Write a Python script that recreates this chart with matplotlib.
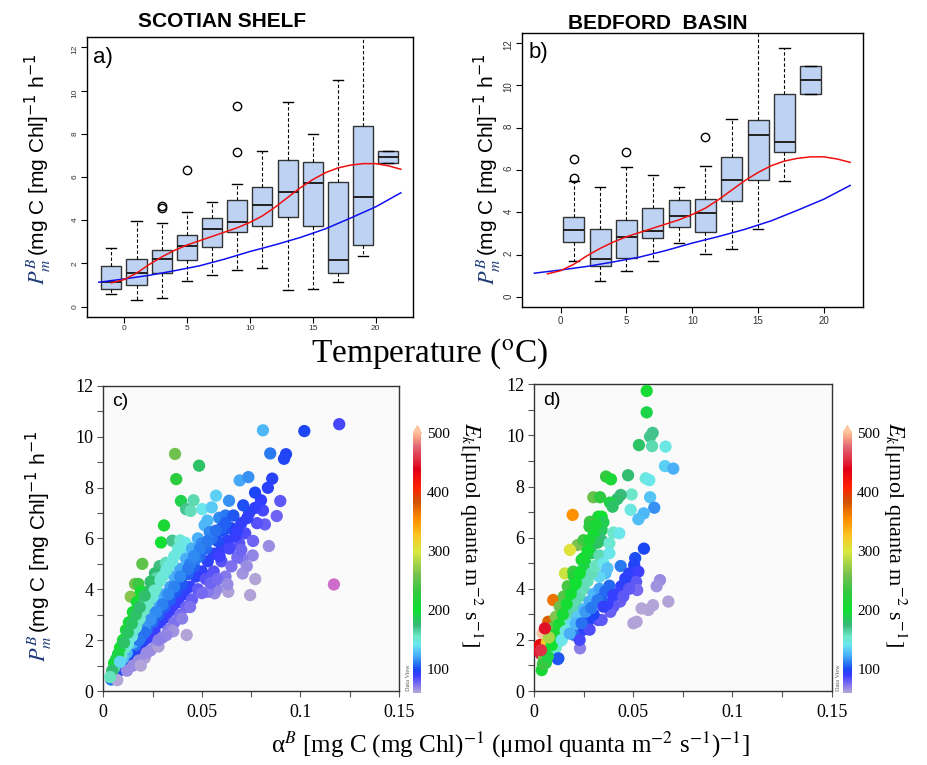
import matplotlib
matplotlib.use("Agg")
import matplotlib.pyplot as plt
from matplotlib.colors import LinearSegmentedColormap, Normalize
from matplotlib.cm import ScalarMappable
from matplotlib.ticker import MultipleLocator

SANS = ["Liberation Sans", "DejaVu Sans"]
NARROW = ["Liberation Sans Narrow", "Liberation Sans", "DejaVu Sans"]
SERIF = ["Liberation Serif", "DejaVu Serif"]

# ---------------- boxplots: P_m^B by temperature bin ----------------
a_pos = [-1, 1, 3, 5, 7, 9, 11, 13, 15, 17, 19, 21]
a_whislo = [0.58, 0.32, 0.41, 1.17, 1.46, 1.69, 1.77, 0.77, 0.81, 1.15, 2.34, 6.65]
a_q1 = [0.80, 0.98, 1.57, 2.18, 2.77, 3.47, 3.75, 4.16, 3.75, 1.54, 2.86, 6.65]
a_med = [1.15, 1.57, 2.20, 2.80, 3.61, 3.93, 4.70, 5.30, 5.73, 2.18, 5.07, 6.93]
a_q3 = [1.89, 2.21, 2.64, 3.32, 4.12, 4.93, 5.56, 6.81, 6.70, 5.79, 8.34, 7.19]
a_whishi = [2.70, 3.95, 3.89, 4.39, 4.84, 5.67, 7.22, 9.48, 7.97, 10.48, 13.5, 7.19]
a_fliers = [[], [], [4.55, 4.66], [6.33], [], [7.16, 9.31], [], [], [], [], [], []]

b_pos = [1, 3, 5, 7, 9, 11, 13, 15, 17, 19]
b_whislo = [1.71, 0.75, 1.21, 1.70, 2.56, 2.04, 2.25, 3.21, 5.46, 9.59]
b_q1 = [2.61, 1.49, 1.87, 2.78, 3.32, 3.08, 4.55, 5.54, 6.84, 9.59]
b_med = [3.19, 1.82, 2.82, 3.13, 3.85, 3.98, 5.54, 7.64, 7.33, 10.25]
b_q3 = [3.77, 3.22, 3.65, 4.20, 4.58, 4.62, 6.61, 8.34, 9.58, 10.92]
b_whishi = [5.46, 5.22, 6.13, 5.76, 5.20, 6.18, 8.40, 13.0, 11.75, 10.92]
b_fliers = [[5.63, 6.54], [], [6.83], [], [], [7.55], [], [], [], []]

# model curves (same in both panels)
blue_x = [-2, 0, 2, 4, 6, 8, 10, 12, 14, 16, 18, 20, 22]
blue_y = [1.13, 1.28, 1.45, 1.66, 1.89, 2.20, 2.55, 2.86, 3.20, 3.60, 4.10, 4.62, 5.27]
red_x = [-1, 0, 1, 2, 3, 4, 5, 6, 7, 8, 9, 10, 11, 12, 13, 14, 15, 16, 17, 18,
         19, 20, 21, 22]
red_y = [1.10, 1.25, 1.55, 1.95, 2.30, 2.60, 2.85, 3.05, 3.25, 3.45, 3.65, 3.90,
         4.20, 4.60, 5.05, 5.50, 5.88, 6.20, 6.42, 6.55, 6.62, 6.62, 6.52, 6.36]

# ---------------- scatter c) Scotian Shelf ----------------
c_alpha = [
    0.1197, 0.1020, 0.0810, 0.0847, 0.0927, 0.0917, 0.0857, 0.0692, 0.0736, 0.0835,
    0.0898, 0.0880, 0.0840, 0.1170, 0.0771, 0.0745, 0.0707, 0.0634, 0.0423, 0.0364,
    0.0486, 0.0370, 0.0394, 0.0420, 0.0443, 0.0458, 0.0502, 0.0550, 0.0572, 0.0638,
    0.0588, 0.0514, 0.0528, 0.0308, 0.0293, 0.0350, 0.0390, 0.0416, 0.0398, 0.0198,
    0.0286, 0.0318, 0.0262, 0.0270, 0.0161, 0.0178, 0.0139, 0.0758, 0.0705, 0.0728,
    0.0565, 0.0575, 0.0820, 0.0810, 0.0770, 0.0740, 0.0700, 0.0720, 0.0690, 0.0670,
    0.0650, 0.0630, 0.0610, 0.0600, 0.0580, 0.0560, 0.0550, 0.0530, 0.0520, 0.0500,
    0.0490, 0.0470, 0.0460, 0.0440, 0.0430, 0.0410, 0.0400, 0.0380, 0.0370, 0.0350,
    0.0340, 0.0320, 0.0310, 0.0290, 0.0280, 0.0260, 0.0250, 0.0230, 0.0220, 0.0200,
    0.0190, 0.0170, 0.0160, 0.0140, 0.0120, 0.0100, 0.0080, 0.0060, 0.0040, 0.0071,
    0.0450, 0.0420, 0.0390, 0.0360, 0.0340, 0.0310, 0.0280, 0.0260, 0.0230, 0.0210,
    0.0180, 0.0150, 0.0120, 0.0100, 0.0480, 0.0360, 0.0330, 0.0300, 0.0270, 0.0250,
    0.0220, 0.0200, 0.0170, 0.0150, 0.0130, 0.0110, 0.0090, 0.0070, 0.0055, 0.0240,
    0.0220, 0.0195, 0.0175, 0.0155, 0.0135, 0.0115, 0.0095, 0.0075, 0.0055, 0.0045,
    0.0190, 0.0170, 0.0150, 0.0130, 0.0115, 0.0100, 0.0085, 0.0075, 0.0210, 0.0600,
    0.0560, 0.0520, 0.0480, 0.0450, 0.0420, 0.0390, 0.0360, 0.0330, 0.0300, 0.0270,
    0.0240, 0.0210, 0.0180, 0.0150, 0.0120, 0.0347, 0.0355, 0.0280, 0.0190, 0.0530,
    0.0545, 0.0620, 0.0650, 0.0680, 0.0700, 0.0760, 0.0780, 0.0800, 0.0770, 0.0620,
    0.0600, 0.0540, 0.0500, 0.0470, 0.0440, 0.0620, 0.0660, 0.0710, 0.0730, 0.0680,
    0.0640, 0.0590, 0.0570, 0.0530, 0.0490, 0.0460, 0.0430, 0.0390, 0.0360, 0.0330,
    0.0300, 0.0270, 0.0240, 0.0210, 0.0180, 0.0125, 0.0145, 0.0165, 0.0185, 0.0205,
    0.0230, 0.0260, 0.0290, 0.0320, 0.0350, 0.0380, 0.0105, 0.0125, 0.0145, 0.0165,
    0.0185, 0.0210, 0.0065, 0.0085, 0.0035, 0.0440, 0.0500, 0.0580, 0.0630, 0.0400,
    0.0320, 0.0280, 0.0220,
]
c_pmax = [
    10.49, 10.22, 10.25, 9.34, 9.31, 9.13, 8.35, 8.28, 8.41, 7.99,
    7.47, 6.88, 5.70, 4.19, 4.40, 3.77, 4.62, 3.90, 2.20, 9.32,
    8.86, 8.33, 7.47, 7.15, 7.08, 7.50, 7.15, 7.22, 7.68, 7.48,
    6.81, 6.52, 6.70, 6.51, 5.84, 5.91, 5.92, 5.83, 5.41, 5.00,
    4.91, 5.04, 4.63, 4.43, 4.21, 4.21, 3.71, 5.33, 5.20, 4.91,
    3.84, 4.00, 6.55, 7.10, 7.20, 7.00, 6.60, 6.20, 5.80, 6.10,
    6.40, 5.90, 6.30, 5.60, 5.90, 5.40, 6.00, 5.10, 5.60, 4.70,
    5.30, 4.50, 4.90, 4.10, 4.60, 3.80, 4.20, 3.50, 3.90, 3.20,
    3.60, 2.90, 3.30, 2.70, 3.00, 2.40, 2.70, 2.10, 2.40, 1.90,
    2.10, 1.60, 1.80, 1.40, 1.20, 1.00, 0.80, 0.50, 0.45, 0.43,
    5.60, 5.20, 4.80, 4.50, 4.10, 3.80, 3.50, 3.10, 2.90, 2.50,
    2.30, 1.90, 1.50, 1.30, 6.00, 5.30, 4.90, 4.50, 4.10, 3.70,
    3.40, 3.00, 2.70, 2.30, 2.00, 1.70, 1.40, 1.10, 0.90, 4.30,
    3.90, 3.50, 3.20, 2.80, 2.50, 2.10, 1.80, 1.40, 1.10, 0.80,
    3.90, 3.50, 3.10, 2.70, 2.40, 2.00, 1.70, 1.45, 3.60, 5.10,
    4.70, 4.40, 4.00, 3.60, 3.30, 3.00, 2.70, 2.40, 2.10, 1.80,
    1.60, 1.30, 1.20, 1.00, 0.80, 2.40, 2.35, 1.75, 1.00, 3.90,
    4.25, 4.50, 4.90, 5.25, 5.55, 5.90, 6.60, 7.50, 7.80, 6.90,
    6.40, 6.25, 5.80, 5.20, 5.00, 6.60, 6.90, 7.30, 6.80, 6.30,
    5.60, 5.30, 6.30, 5.90, 5.60, 5.30, 4.80, 4.50, 4.10, 3.80,
    3.40, 3.10, 2.80, 2.30, 2.00, 1.85, 2.15, 2.50, 2.85, 3.20,
    3.55, 3.95, 4.35, 4.75, 5.10, 5.60, 1.90, 2.30, 2.65, 3.00,
    3.30, 3.75, 1.25, 1.15, 0.55, 3.30, 3.85, 4.40, 4.20, 2.85,
    2.20, 2.00, 1.50,
]
c_ek = [
    88, 100, 127, 112, 98, 98, 97, 122, 118, 95,
    83, 78, 68, 36, 57, 51, 65, 62, 52, 256,
    182, 225, 190, 170, 160, 162, 142, 132, 134, 117,
    116, 127, 127, 211, 200, 170, 152, 145, 140, 250,
    172, 160, 177, 164, 260, 236, 265, 70, 74, 67,
    68, 70, 80, 88, 94, 95, 94, 86, 84, 91,
    98, 94, 103, 93, 102, 96, 109, 96, 108, 94,
    108, 96, 107, 93, 107, 93, 105, 92, 105, 91,
    106, 91, 106, 93, 107, 92, 108, 91, 109, 95,
    110, 94, 112, 100, 100, 100, 100, 83, 112, 60,
    124, 124, 123, 125, 121, 123, 125, 119, 126, 119,
    128, 127, 125, 130, 125, 147, 148, 150, 152, 148,
    155, 150, 159, 153, 154, 155, 156, 157, 164, 180,
    177, 180, 183, 181, 185, 183, 189, 187, 200, 178,
    205, 206, 207, 208, 209, 200, 200, 193, 171, 85,
    84, 85, 83, 80, 79, 77, 75, 73, 70, 67,
    67, 62, 67, 67, 67, 69, 66, 62, 53, 74,
    78, 73, 75, 77, 79, 78, 85, 94, 101, 111,
    107, 116, 116, 111, 114, 106, 105, 103, 93, 93,
    88, 90, 110, 111, 114, 115, 112, 115, 114, 115,
    113, 115, 117, 110, 111, 148, 148, 152, 154, 156,
    154, 152, 150, 148, 146, 147, 181, 184, 183, 182,
    178, 179, 192, 135, 157, 75, 77, 76, 67, 71,
    69, 71, 68,
]

# ---------------- scatter d) Bedford Basin ----------------
d_alpha = [
    0.0568, 0.0568, 0.0598, 0.0585, 0.0529, 0.0595, 0.0663, 0.0660, 0.0702, 0.0474,
    0.0363, 0.0388, 0.0563, 0.0581, 0.0492, 0.0437, 0.0420, 0.0383, 0.0396, 0.0299,
    0.0333, 0.0585, 0.0606, 0.0487, 0.0553, 0.0526, 0.0195, 0.0324, 0.0341, 0.0282,
    0.0280, 0.0341, 0.0400, 0.0430, 0.0340, 0.0380, 0.0220, 0.0181, 0.0290, 0.0290,
    0.0240, 0.0330, 0.0380, 0.0554, 0.0510, 0.0505, 0.0437, 0.0480, 0.0526, 0.0470,
    0.0515, 0.0520, 0.0635, 0.0618, 0.0360, 0.0330, 0.0156, 0.0198, 0.0380, 0.0097,
    0.0677, 0.0600, 0.0576, 0.0542, 0.0501, 0.0517, 0.0417, 0.0434, 0.0400, 0.0385,
    0.0370, 0.0324, 0.0341, 0.0232, 0.0250, 0.0200, 0.0072, 0.0044, 0.0030, 0.0025,
    0.0035, 0.0039, 0.0060, 0.0065, 0.0080, 0.0100, 0.0120, 0.0110, 0.0130, 0.0150,
    0.0120, 0.0100, 0.0140, 0.0110, 0.0160, 0.0130, 0.0180, 0.0150, 0.0200, 0.0170,
    0.0220, 0.0200, 0.0240, 0.0260, 0.0270, 0.0250, 0.0300, 0.0170, 0.0190, 0.0210,
    0.0230, 0.0250, 0.0270, 0.0290, 0.0310, 0.0190, 0.0220, 0.0250, 0.0280, 0.0300,
    0.0330, 0.0270, 0.0300, 0.0340, 0.0360, 0.0230, 0.0280, 0.0440, 0.0460, 0.0420,
    0.0050, 0.0090, 0.0130, 0.0123, 0.0320, 0.0350, 0.0045, 0.0070, 0.0090, 0.0105,
    0.0125, 0.0145, 0.0165, 0.0185, 0.0210, 0.0230, 0.0250, 0.0280, 0.0310, 0.0140,
    0.0160, 0.0180, 0.0210, 0.0240, 0.0260, 0.0290, 0.0320, 0.0350, 0.0400, 0.0450,
    0.0480, 0.0350, 0.0370, 0.0075, 0.0055, 0.0035,
]
d_pmax = [
    11.74, 10.90, 10.10, 9.95, 9.62, 9.58, 9.56, 8.80, 8.70, 8.44,
    8.39, 8.28, 8.32, 8.25, 7.69, 7.67, 7.51, 7.37, 7.21, 7.58,
    7.58, 7.58, 7.17, 7.09, 6.95, 6.72, 6.89, 6.82, 6.82, 6.62,
    6.43, 6.30, 6.20, 6.17, 5.90, 5.78, 5.71, 5.52, 5.70, 5.39,
    5.13, 5.30, 5.39, 5.57, 5.20, 4.93, 4.89, 4.60, 4.67, 4.27,
    4.27, 3.95, 4.34, 4.10, 4.60, 4.47, 4.60, 4.67, 4.12, 3.56,
    3.50, 3.36, 3.17, 3.23, 2.65, 2.71, 3.56, 3.50, 3.30, 3.10,
    3.40, 2.78, 2.78, 1.67, 2.40, 2.20, 2.71, 2.26, 1.80, 1.55,
    1.45, 0.82, 1.10, 1.90, 1.60, 1.40, 1.25, 1.70, 1.95, 2.20,
    2.40, 2.50, 2.80, 2.90, 3.10, 3.30, 3.50, 3.70, 3.90, 4.10,
    4.30, 4.50, 4.70, 5.00, 5.50, 5.90, 6.10, 2.70, 3.10, 3.40,
    3.70, 4.00, 4.30, 4.60, 4.90, 2.60, 2.90, 3.20, 3.50, 3.80,
    4.00, 2.70, 3.00, 3.60, 3.90, 2.00, 2.40, 4.10, 4.40, 3.80,
    1.30, 2.10, 2.20, 1.28, 5.80, 6.60, 1.05, 1.35, 1.80, 2.20,
    2.60, 3.00, 3.40, 3.80, 4.20, 4.60, 5.20, 5.90, 6.50, 2.00,
    2.35, 2.25, 2.65, 2.65, 3.10, 3.25, 3.55, 3.30, 3.75, 3.70,
    4.00, 5.00, 4.80, 2.10, 2.45, 1.60,
]
d_ek = [
    207, 192, 170, 170, 182, 161, 144, 133, 124, 178,
    231, 213, 148, 142, 156, 175, 179, 192, 182, 253,
    228, 130, 118, 146, 126, 128, 353, 211, 200, 235,
    230, 185, 155, 143, 174, 152, 260, 305, 197, 186,
    214, 161, 142, 100, 102, 98, 112, 96, 89, 91,
    83, 76, 68, 66, 128, 135, 295, 236, 108, 367,
    52, 56, 55, 60, 53, 52, 85, 81, 83, 81,
    92, 86, 82, 72, 96, 110, 376, 520, 430, 440,
    450, 210, 190, 320, 205, 140, 105, 155, 150, 147,
    200, 250, 200, 264, 194, 254, 194, 247, 195, 241,
    195, 225, 196, 192, 204, 236, 203, 159, 163, 162,
    161, 160, 159, 159, 158, 137, 132, 128, 125, 127,
    121, 100, 100, 106, 108, 87, 86, 93, 96, 90,
    260, 233, 170, 104, 181, 189, 233, 193, 200, 210,
    208, 207, 206, 205, 200, 200, 208, 211, 210, 143,
    147, 125, 126, 110, 119, 112, 111, 94, 94, 82,
    83, 143, 130, 280, 445, 457,
]

# colour scale (ODV-like rainbow), value -> colour; below 45 goes magenta
ek_stops = [30, 42, 50, 60, 75, 90, 100, 112, 125, 140, 155, 175, 200, 230, 260,
            300, 330, 355, 385, 410, 440, 475, 500]
ek_colors = ["#d45ec8", "#c47ccc", "#b2a2d8", "#b4a6d6", "#7a6ef0", "#3a3cff",
             "#1c46f5", "#2a7ef0", "#4cb4f8", "#6ae6f0", "#6ee8c8", "#36b878",
             "#10e030", "#30c840", "#78c050", "#d8e840", "#ffc020", "#ff8c00",
             "#d05000", "#ff2000", "#e00018", "#e06070", "#ffb890"]
EK_LOW, EK_MIN, EK_MAX = 30, 60, 500


def make_cmap(lo):
    pairs = [((v - lo) / (EK_MAX - lo), c) for v, c in zip(ek_stops, ek_colors) if v >= lo]
    cm = LinearSegmentedColormap.from_list("odv", pairs)
    cm.set_over("#ffc4a0")
    return cm


cmap_pts = make_cmap(EK_LOW)
norm_pts = Normalize(EK_LOW, EK_MAX)
cmap_bar = make_cmap(EK_MIN)
norm_bar = Normalize(EK_MIN, EK_MAX)

BOX_FC = "#bed3f3"

fig = plt.figure(figsize=(9.28, 7.65), dpi=100)


def tick_font(ax, family, size, color="black"):
    for lab in ax.get_xticklabels() + ax.get_yticklabels():
        lab.set_fontfamily(family)
        lab.set_fontsize(size)
        lab.set_color(color)


def box_panel(rect, pos, wlo, q1, med, q3, whi, fliers, tag, lsize):
    ax = fig.add_axes(rect)
    stats = [dict(whislo=a, q1=b, med=c, q3=d, whishi=e, fliers=f)
             for a, b, c, d, e, f in zip(wlo, q1, med, q3, whi, fliers)]
    ax.bxp(stats, positions=pos, widths=1.6, patch_artist=True, manage_ticks=False,
           boxprops=dict(facecolor=BOX_FC, edgecolor="#333333", linewidth=1.0),
           whiskerprops=dict(color="black", linestyle=(0, (3, 2)), linewidth=0.8),
           capprops=dict(color="black", linewidth=1.0),
           medianprops=dict(color="#222222", linewidth=1.4),
           flierprops=dict(marker="o", markerfacecolor="none", markeredgecolor="black",
                           markersize=6, markeredgewidth=1.0))
    ax.plot(blue_x, blue_y, color="#1010f0", lw=1.1, zorder=4)
    ax.plot(red_x, red_y, color="#f01010", lw=1.1, zorder=4)
    ax.set_xlim(-2.96, 22.96)
    ax.set_ylim(-0.48, 12.48)
    ax.set_xticks([0, 5, 10, 15, 20])
    ax.set_yticks([0, 2, 4, 6, 8, 10, 12])
    ax.tick_params(direction="out", length=4, width=0.8, pad=2)
    ax.tick_params(axis="y", labelrotation=90)
    tick_font(ax, SANS, lsize, "#333333")
    for s in ax.spines.values():
        s.set_linewidth(1.0)
    ax.text(0.02, 0.965, tag, transform=ax.transAxes, ha="left", va="top",
            fontsize=16, family=SANS)
    return ax


def scatter_panel(rect, crect, xs, ys, cs, tag, clabel_x):
    ax = fig.add_axes(rect)
    ax.set_facecolor("#fafafa")
    ax.scatter(xs, ys, c=cs, cmap=cmap_pts, norm=norm_pts, s=78, linewidths=0,
               zorder=3)
    ax.set_xlim(0, 0.15)
    ax.set_ylim(0, 12)
    ax.set_xticks([0, 0.05, 0.1, 0.15])
    ax.set_xticklabels(["0", "0.05", "0.1", "0.15"])
    ax.set_yticks([0, 2, 4, 6, 8, 10, 12])
    ax.xaxis.set_minor_locator(MultipleLocator(0.025))
    ax.yaxis.set_minor_locator(MultipleLocator(1))
    ax.tick_params(which="both", direction="out", length=4, width=0.8, color="#555555")
    ax.tick_params(axis="x", pad=5)
    ax.tick_params(axis="y", pad=3)
    tick_font(ax, SERIF, 13)
    for s in ax.spines.values():
        s.set_linewidth(1.0)
        s.set_color("#333333")
    ax.text(0.03, 0.975, tag, transform=ax.transAxes, ha="left", va="top",
            fontsize=14, family=SANS)
    cax = fig.add_axes(crect)
    cb = fig.colorbar(ScalarMappable(norm=norm_bar, cmap=cmap_bar), cax=cax,
                      extend="max", extendfrac=0.03, ticks=[100, 200, 300, 400, 500])
    cb.outline.set_visible(False)
    cax.tick_params(length=0, pad=4)
    for lab in cax.get_yticklabels():
        lab.set_fontfamily(SERIF)
        lab.set_fontsize(11)
    fig.text(crect[0] - 0.002, crect[1] + 0.003, "Data View", rotation=90,
             ha="right", va="bottom", fontsize=4.5, family=SERIF, color="#555555")
    fig.text(clabel_x, 0.302, r"$E_k$[μmol quanta m$^{-2}$ s$^{-1}$]", rotation=270,
             ha="center", va="center", fontsize=16, family=SERIF,
             math_fontfamily="stix")
    return ax


def pm_label(x, yc, size):
    r = fig.canvas.get_renderer()
    t1 = fig.text(x, 0, r"$P_m^B$", rotation=90, rotation_mode="anchor", ha="left",
                  va="baseline", fontsize=size + 1, color="#1f3c78",
                  math_fontfamily="stix")
    t2 = fig.text(x, 0, r"(mg C [mg Chl]$^{-1}$ h$^{-1}$", rotation=90,
                  rotation_mode="anchor", ha="left", va="baseline", fontsize=size,
                  family=SANS, math_fontfamily="dejavusans")
    h1 = t1.get_window_extent(r).height / fig.bbox.height
    h2 = t2.get_window_extent(r).height / fig.bbox.height
    y0 = yc - (h1 + h2) / 2
    t1.set_y(y0)
    t2.set_y(y0 + h1 + 0.002)


box_panel([0.0934, 0.5856, 0.3516, 0.366], a_pos, a_whislo, a_q1, a_med, a_q3,
          a_whishi, a_fliers, "a)", 6)
box_panel([0.5622, 0.5983, 0.3675, 0.359], b_pos, b_whislo, b_q1, b_med, b_q3,
          b_whishi, b_fliers, "b)", 7)
scatter_panel([0.1113, 0.0967, 0.3186, 0.399], [0.4454, 0.094, 0.0088, 0.350],
              c_alpha, c_pmax, c_ek, "c)", 0.5075)
scatter_panel([0.5754, 0.0967, 0.3208, 0.401], [0.9087, 0.094, 0.0090, 0.350],
              d_alpha, d_pmax, d_ek, "d)", 0.9645)

pm_label(0.0485, 0.778, 15)
pm_label(0.533, 0.778, 15)
pm_label(0.050, 0.285, 15)

fig.text(0.239, 0.972, "SCOTIAN SHELF", ha="center", va="center", fontsize=15,
         fontweight="bold", family=NARROW)
fig.text(0.709, 0.969, "BEDFORD  BASIN", ha="center", va="center", fontsize=15,
         fontweight="bold", family=NARROW)
fig.text(0.463, 0.537, r"Temperature ($^{\rm o}$C)", ha="center", va="center",
         fontsize=24, family=SERIF, math_fontfamily="stix")
fig.text(0.55, 0.026,
         r"α$^{B}$ [mg C (mg Chl)$^{-1}$ (μmol quanta m$^{-2}$ s$^{-1}$)$^{-1}$]",
         ha="center", va="center", fontsize=18, family=SERIF, math_fontfamily="stix")

fig.savefig("out.png", dpi=100)
